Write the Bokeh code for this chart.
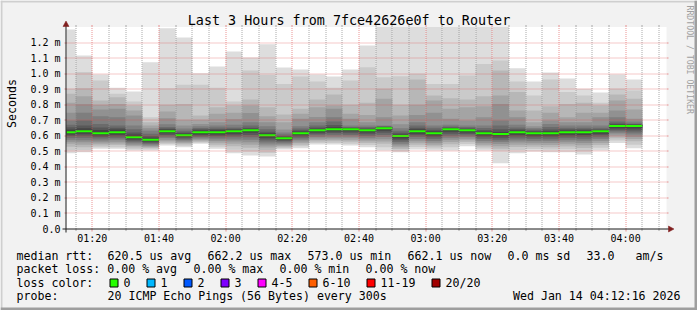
import math
from bokeh.plotting import figure
from bokeh.models import Label, Range1d
from bokeh.core.properties import value
from bokeh.embed import file_html
from bokeh.resources import INLINE

# ---------------- data ----------------
title_text = "Last 3 Hours from 7fce42626e0f to Router"
y_label = "Seconds"
graph_start = "01:12:16"
graph_minutes = 180
y_top = 1.3          # ms, upper limit of the graph
step_minutes = 5

bucket_start = ["01:10", "01:15", "01:20", "01:25", "01:30", "01:35", "01:40",
                "01:45", "01:50", "01:55", "02:00", "02:05", "02:10", "02:15",
                "02:20", "02:25", "02:30", "02:35", "02:40", "02:45", "02:50",
                "02:55", "03:00", "03:05", "03:10", "03:15", "03:20", "03:25",
                "03:30", "03:35", "03:40", "03:45", "03:50", "03:55", "04:00"]

median_rtt = [0.621, 0.628, 0.615, 0.621, 0.589, 0.573, 0.628, 0.602, 0.621,
              0.621, 0.628, 0.634, 0.602, 0.583, 0.615, 0.634, 0.641, 0.641,
              0.634, 0.647, 0.596, 0.628, 0.615, 0.641, 0.634, 0.615, 0.609,
              0.621, 0.615, 0.615, 0.621, 0.621, 0.628, 0.662, 0.662]

# 20 sorted ping times (ms) per 5-minute step
pings = [
    [0.486, 0.505, 0.527, 0.546, 0.560, 0.572, 0.585, 0.596, 0.606, 0.616, 0.626, 0.639, 0.654, 0.669, 0.697, 0.746, 0.811, 0.869, 0.901, 1.284],
    [0.492, 0.506, 0.524, 0.541, 0.556, 0.570, 0.585, 0.598, 0.611, 0.622, 0.634, 0.647, 0.665, 0.697, 0.746, 0.802, 0.854, 0.905, 1.009, 1.116],
    [0.514, 0.524, 0.535, 0.546, 0.557, 0.568, 0.580, 0.590, 0.600, 0.609, 0.621, 0.636, 0.652, 0.675, 0.725, 0.768, 0.798, 0.826, 0.955, 0.994],
    [0.514, 0.525, 0.538, 0.549, 0.560, 0.572, 0.583, 0.594, 0.605, 0.615, 0.627, 0.638, 0.650, 0.665, 0.718, 0.772, 0.804, 0.847, 0.869, 0.908],
    [0.503, 0.512, 0.522, 0.532, 0.541, 0.550, 0.559, 0.568, 0.576, 0.584, 0.594, 0.606, 0.620, 0.640, 0.665, 0.729, 0.761, 0.794, 0.819, 0.884],
    [0.503, 0.511, 0.519, 0.526, 0.533, 0.540, 0.547, 0.554, 0.561, 0.568, 0.578, 0.586, 0.596, 0.612, 0.630, 0.647, 0.665, 0.686, 0.718, 1.073],
    [0.535, 0.545, 0.554, 0.563, 0.573, 0.584, 0.594, 0.604, 0.614, 0.623, 0.633, 0.638, 0.645, 0.655, 0.673, 0.712, 0.755, 0.798, 0.905, 1.292],
    [0.525, 0.534, 0.543, 0.551, 0.559, 0.567, 0.575, 0.583, 0.590, 0.597, 0.607, 0.613, 0.620, 0.630, 0.645, 0.665, 0.701, 0.804, 0.927, 1.232],
    [0.546, 0.553, 0.560, 0.567, 0.575, 0.583, 0.591, 0.599, 0.607, 0.615, 0.627, 0.633, 0.640, 0.648, 0.660, 0.675, 0.701, 0.729, 0.927, 1.002],
    [0.514, 0.528, 0.541, 0.553, 0.565, 0.576, 0.587, 0.597, 0.606, 0.615, 0.627, 0.634, 0.642, 0.652, 0.665, 0.686, 0.740, 0.783, 0.908, 1.045],
    [0.486, 0.508, 0.530, 0.547, 0.561, 0.575, 0.588, 0.600, 0.612, 0.623, 0.633, 0.637, 0.643, 0.652, 0.669, 0.705, 0.746, 0.794, 0.819, 1.142],
    [0.471, 0.497, 0.521, 0.540, 0.556, 0.573, 0.589, 0.603, 0.617, 0.629, 0.639, 0.643, 0.650, 0.665, 0.686, 0.745, 0.794, 0.832, 1.019, 1.103],
    [0.465, 0.487, 0.506, 0.522, 0.536, 0.549, 0.562, 0.574, 0.585, 0.597, 0.607, 0.614, 0.625, 0.640, 0.660, 0.686, 0.725, 0.783, 0.991, 1.189],
    [0.510, 0.518, 0.525, 0.532, 0.540, 0.548, 0.556, 0.564, 0.571, 0.578, 0.588, 0.591, 0.597, 0.606, 0.620, 0.639, 0.686, 0.735, 0.933, 1.039],
    [0.518, 0.530, 0.541, 0.552, 0.562, 0.572, 0.582, 0.592, 0.601, 0.610, 0.620, 0.626, 0.634, 0.645, 0.660, 0.708, 0.740, 0.772, 0.981, 1.026],
    [0.542, 0.552, 0.561, 0.571, 0.581, 0.591, 0.601, 0.611, 0.620, 0.629, 0.639, 0.644, 0.652, 0.665, 0.686, 0.720, 0.783, 0.832, 0.948, 0.994],
    [0.542, 0.552, 0.563, 0.573, 0.583, 0.594, 0.605, 0.616, 0.626, 0.636, 0.646, 0.654, 0.668, 0.690, 0.718, 0.772, 0.794, 0.865, 0.908, 0.981],
    [0.535, 0.547, 0.559, 0.570, 0.582, 0.593, 0.604, 0.615, 0.626, 0.636, 0.646, 0.647, 0.650, 0.655, 0.665, 0.708, 0.740, 0.798, 0.955, 1.026],
    [0.525, 0.538, 0.551, 0.563, 0.575, 0.586, 0.597, 0.608, 0.619, 0.629, 0.639, 0.642, 0.647, 0.655, 0.665, 0.686, 0.733, 0.811, 1.041, 1.181],
    [0.503, 0.525, 0.546, 0.561, 0.576, 0.590, 0.604, 0.617, 0.630, 0.642, 0.652, 0.654, 0.656, 0.660, 0.665, 0.718, 0.837, 0.901, 0.976, 1.450],
    [0.492, 0.502, 0.513, 0.524, 0.535, 0.546, 0.558, 0.569, 0.580, 0.591, 0.601, 0.607, 0.617, 0.630, 0.647, 0.673, 0.729, 0.798, 0.983, 1.420],
    [0.510, 0.526, 0.541, 0.554, 0.566, 0.578, 0.590, 0.601, 0.612, 0.623, 0.633, 0.640, 0.650, 0.665, 0.686, 0.733, 0.798, 0.961, 0.998, 1.400],
    [0.503, 0.516, 0.529, 0.541, 0.553, 0.565, 0.577, 0.588, 0.599, 0.610, 0.620, 0.627, 0.637, 0.650, 0.665, 0.746, 0.826, 0.858, 0.933, 1.380],
    [0.503, 0.524, 0.544, 0.558, 0.572, 0.586, 0.599, 0.612, 0.624, 0.636, 0.646, 0.647, 0.651, 0.658, 0.669, 0.708, 0.772, 0.841, 0.933, 1.410],
    [0.531, 0.545, 0.558, 0.569, 0.579, 0.590, 0.600, 0.610, 0.620, 0.629, 0.639, 0.642, 0.647, 0.655, 0.665, 0.697, 0.783, 0.832, 0.987, 1.390],
    [0.503, 0.516, 0.529, 0.541, 0.553, 0.565, 0.577, 0.588, 0.599, 0.610, 0.620, 0.626, 0.635, 0.648, 0.665, 0.718, 0.789, 0.854, 1.062, 1.430],
    [0.421, 0.503, 0.514, 0.531, 0.545, 0.558, 0.570, 0.582, 0.593, 0.604, 0.614, 0.623, 0.640, 0.665, 0.697, 0.804, 0.858, 1.019, 1.084, 1.460],
    [0.486, 0.507, 0.526, 0.541, 0.555, 0.568, 0.581, 0.593, 0.605, 0.616, 0.626, 0.632, 0.640, 0.652, 0.669, 0.718, 0.761, 0.880, 0.948, 1.034],
    [0.497, 0.513, 0.528, 0.541, 0.553, 0.565, 0.577, 0.588, 0.599, 0.610, 0.620, 0.624, 0.630, 0.638, 0.648, 0.660, 0.686, 0.761, 0.858, 0.948],
    [0.492, 0.509, 0.525, 0.539, 0.552, 0.564, 0.576, 0.588, 0.599, 0.610, 0.620, 0.627, 0.639, 0.655, 0.675, 0.697, 0.746, 0.789, 0.961, 1.006],
    [0.492, 0.511, 0.529, 0.544, 0.557, 0.570, 0.582, 0.594, 0.605, 0.616, 0.626, 0.632, 0.640, 0.650, 0.665, 0.686, 0.718, 0.804, 0.880, 0.968],
    [0.477, 0.499, 0.520, 0.537, 0.552, 0.566, 0.579, 0.592, 0.604, 0.616, 0.626, 0.632, 0.640, 0.650, 0.665, 0.686, 0.746, 0.811, 0.858, 0.901],
    [0.503, 0.521, 0.539, 0.552, 0.565, 0.577, 0.589, 0.601, 0.612, 0.623, 0.633, 0.636, 0.641, 0.650, 0.665, 0.718, 0.746, 0.794, 0.811, 0.877],
    [0.551, 0.568, 0.583, 0.595, 0.606, 0.617, 0.627, 0.637, 0.647, 0.657, 0.667, 0.671, 0.678, 0.690, 0.718, 0.761, 0.826, 0.865, 0.901, 0.994],
    [0.518, 0.541, 0.563, 0.578, 0.592, 0.606, 0.619, 0.632, 0.645, 0.657, 0.667, 0.669, 0.672, 0.678, 0.690, 0.708, 0.768, 0.837, 0.890, 0.961],
]

x_ticks = [80, 100, 120, 140, 160, 180, 200, 220, 240]
x_tick_labels = ["01:20", "01:40", "02:00", "02:20", "02:40", "03:00", "03:20", "03:40", "04:00"]
y_ticks = [0.0, 0.1, 0.2, 0.3, 0.4, 0.5, 0.6, 0.7, 0.8, 0.9, 1.0, 1.1, 1.2]
y_tick_labels = ["0.0", "0.1 m", "0.2 m", "0.3 m", "0.4 m", "0.5 m", "0.6 m", "0.7 m",
                 "0.8 m", "0.9 m", "1.0 m", "1.1 m", "1.2 m"]

loss_labels = ["0", "1", "2", "3", "4-5", "6-10", "11-19", "20/20"]
loss_colors = ["#26ff00", "#00b8ff", "#0059ff", "#7e00ff", "#ff00ff", "#ff5e00", "#ff0000", "#a10000"]
smoke_colors = ["#dddddd", "#cacaca", "#b7b7b7", "#a4a4a4", "#919191",
                "#7e7e7e", "#6b6b6b", "#585858", "#454545", "#323232"]

# legend texts with their canvas x position (monospace, rrdtool layout)
legend_rtt = [("median rtt:", 16), ("620.5 us avg", 107), ("662.2 us max", 207),
              ("573.0 us min", 307), ("662.1 us now", 407), ("0.0 ms sd", 507),
              ("33.0", 586), ("am/s", 635)]
legend_loss = [("packet loss: 0.00 % avg", 16), ("0.00 % max", 193),
               ("0.00 % min", 279), ("0.00 % now", 365)]
loss_title = "loss color:"
probe_text = [("probe:", 16), ("20 ICMP Echo Pings (56 Bytes) every 300s", 107)]
stamp_text = "Wed Jan 14 04:12:16 2026"
watermark = "RRDTOOL / TOBI OETIKER"

# ---------------- style / layout ----------------
BACK = "#f2f2f2"
CANVAS = "#ffffff"
SHADE_A = "#cfcfcf"
SHADE_B = "#9e9e9e"
GRID = "#8f8f8f"
MGRID = "#de4f4f"
ARROW = "#801f1f"
AXIS = "#1f1f1f"
FONT = "DejaVu Sans Mono"

W, H = 697, 310
X0, Y0 = 66, 228                 # graph origin on the canvas (px)
px_per_min = 600.0 / graph_minutes
px_per_ms = 155.0


def to_min(s):
    parts = [int(v) for v in s.split(":")]
    return parts[0] * 60 + parts[1] + (parts[2] / 60.0 if len(parts) > 2 else 0.0)


t0 = to_min(graph_start)
t1 = t0 + graph_minutes


def dx(cx):          # canvas px -> data x (minutes)
    return t0 + (cx - X0) / px_per_min


def dy(cy):          # canvas px -> data y (ms)
    return (Y0 - cy) / px_per_ms


def cxof(m):
    return X0 + (m - t0) * px_per_min


def cyof(v):
    return Y0 - v * px_per_ms


p = figure(width=W, height=H, output_backend="svg", toolbar_location=None, title=None,
           x_axis_location=None, y_axis_location=None,
           x_range=Range1d(dx(0), dx(W)), y_range=Range1d(dy(H), dy(0)),
           min_border=0, background_fill_color=BACK, border_fill_color=BACK)
p.outline_line_color = None
p.grid.visible = False

# 3d shade border
p.quad(left=[dx(0), dx(0), dx(0), dx(W - 3)], right=[dx(W), dx(2), dx(W), dx(W)],
       top=[dy(0), dy(0), dy(H - 3), dy(0)], bottom=[dy(2), dy(H), dy(H), dy(H)],
       fill_color=[SHADE_A, SHADE_A, SHADE_B, SHADE_B], line_color=None)

# white graph canvas
p.quad(left=[t0], right=[t1], bottom=[0], top=[y_top], fill_color=CANVAS, line_color=None)

# smoke
starts = [to_min(s) for s in bucket_start]
L, R, B, T, C = [], [], [], [], []
for i, col in enumerate(smoke_colors):
    for b, row in zip(starts, pings):
        L.append(max(b, t0))
        R.append(b + step_minutes)
        B.append(row[i])
        T.append(min(row[len(row) - 1 - i], y_top))
        C.append(col)
p.quad(left=L, right=R, bottom=B, top=T, fill_color=C, line_color=None)

# median (loss 0 colour), 2 px band
sw = 1.0 / px_per_ms
p.quad(left=[max(s, t0) for s in starts], right=[s + step_minutes for s in starts],
       bottom=[m - sw for m in median_rtt], top=[m + sw for m in median_rtt],
       fill_color=loss_colors[0], line_color=None)


# grid, snapped to pixel centres, painted over the graph
def snap_x(m):
    return dx(math.floor(cxof(m)) + 0.5)


def snap_y(v):
    return dy(math.floor(cyof(v)) + 0.5)


minor_x = [snap_x(m) for m in range(75, 255, 5) if m % 20 != 0 and t0 <= m <= t1]
major_x = [snap_x(m) for m in x_ticks]
major_y = [snap_y(v) for v in y_ticks[1:]]
gtop, gbot = dy(26.5), dy(Y0 + 0.5)

p.segment(x0=minor_x, y0=[gbot] * len(minor_x), x1=minor_x, y1=[gtop] * len(minor_x),
          line_color=GRID, line_alpha=0.75, line_dash="1 1", line_width=1)
p.segment(x0=major_x, y0=[gbot] * len(major_x), x1=major_x, y1=[gtop] * len(major_x),
          line_color=MGRID, line_alpha=0.6, line_dash="1 1", line_width=1)
p.segment(x0=[t0] * len(major_y), y0=major_y, x1=[t1] * len(major_y), y1=major_y,
          line_color=MGRID, line_alpha=0.6, line_dash="1 1", line_width=1)

# tick stubs (2 px beyond the graph)
p.segment(x0=minor_x, y0=[dy(Y0 + 0.5)] * len(minor_x), x1=minor_x, y1=[dy(Y0 + 2.5)] * len(minor_x),
          line_color=GRID, line_alpha=0.75, line_width=1)
p.segment(x0=minor_x, y0=[dy(26.5)] * len(minor_x), x1=minor_x, y1=[dy(24.5)] * len(minor_x),
          line_color=GRID, line_alpha=0.75, line_width=1)
p.segment(x0=major_x, y0=[dy(Y0 + 0.5)] * len(major_x), x1=major_x, y1=[dy(Y0 + 3)] * len(major_x),
          line_color=MGRID, line_alpha=0.6, line_width=1)
p.segment(x0=major_x, y0=[dy(26.5)] * len(major_x), x1=major_x, y1=[dy(24.5)] * len(major_x),
          line_color=MGRID, line_alpha=0.6, line_width=1)
p.segment(x0=[dx(X0 - 2)] * len(major_y), y0=major_y, x1=[t0] * len(major_y), y1=major_y,
          line_color=MGRID, line_alpha=0.6, line_width=1)
p.segment(x0=[t1] * len(major_y), y0=major_y, x1=[dx(X0 + 602)] * len(major_y), y1=major_y,
          line_color=MGRID, line_alpha=0.6, line_width=1)

# axes
p.segment(x0=[dx(X0 - 4), dx(X0 - 0.5)], y0=[dy(Y0 + 0.5), dy(Y0 + 4)],
          x1=[dx(X0 + 604), dx(X0 - 0.5)], y1=[dy(Y0 + 0.5), dy(23)],
          line_color=AXIS, line_width=1)
# arrows
p.patches(xs=[[dx(X0 - 3.5), dx(X0 + 2.5), dx(X0 - 0.5)], [dx(X0 + 602), dx(X0 + 602), dx(X0 + 607.5)]],
          ys=[[dy(26), dy(26), dy(20.5)], [dy(Y0 - 2.5), dy(Y0 + 3.5), dy(Y0 + 0.5)]],
          fill_color=ARROW, line_color=ARROW, line_width=0.5)

# tick labels through the data scales
p.text(x=x_ticks, y=[0] * len(x_ticks), text=x_tick_labels, y_offset=10,
       text_font=value(FONT), text_font_size=value("10px"), text_color="#000000",
       text_align="center", text_baseline="middle")
p.text(x=[t0] * len(y_ticks), y=y_ticks, text=y_tick_labels, x_offset=-6,
       text_font=value(FONT), text_font_size=value("10px"), text_color="#000000",
       text_align="right", text_baseline="middle")


# ---------- texts & legend (screen px; frame covers the whole canvas) ----------
def label(text, cx, cy, size="11.6px", align="left", color="#000000", angle=0.0):
    p.add_layout(Label(x=cx, y=H - cy, x_units="screen", y_units="screen", text=text,
                       text_font=FONT, text_font_size=size, text_align=align,
                       text_baseline="middle", text_color=color, angle=angle))


label(title_text, 348.5, 20, size="13.4px", align="center")
label(y_label, 11, 127.5, angle=math.pi / 2)
label(watermark, 689.5, 5, size="8.2px", color="#a0a0a0", angle=-math.pi / 2)

row_y = [255, 268.5, 282.3, 295.7]
for txt, cx in legend_rtt:
    label(txt, cx, row_y[0])
for txt, cx in legend_loss:
    label(txt, cx, row_y[1])
label(loss_title, 16, row_y[2])
sw_x = [109, 146, 183, 220, 257, 308, 366, 431]
p.quad(left=[dx(c + 0.5) for c in sw_x], right=[dx(c + 8.5) for c in sw_x],
       top=[dy(278.5)] * len(sw_x), bottom=[dy(286.5)] * len(sw_x),
       fill_color=loss_colors, line_color="#000000", line_width=1)
for txt, cx in zip(loss_labels, sw_x):
    label(txt, cx + 14, row_y[2])
for txt, cx in probe_text:
    label(txt, cx, row_y[3])
label(stamp_text, 680, row_y[3], align="right")

open("out.html", "w").write(file_html(p, INLINE))
